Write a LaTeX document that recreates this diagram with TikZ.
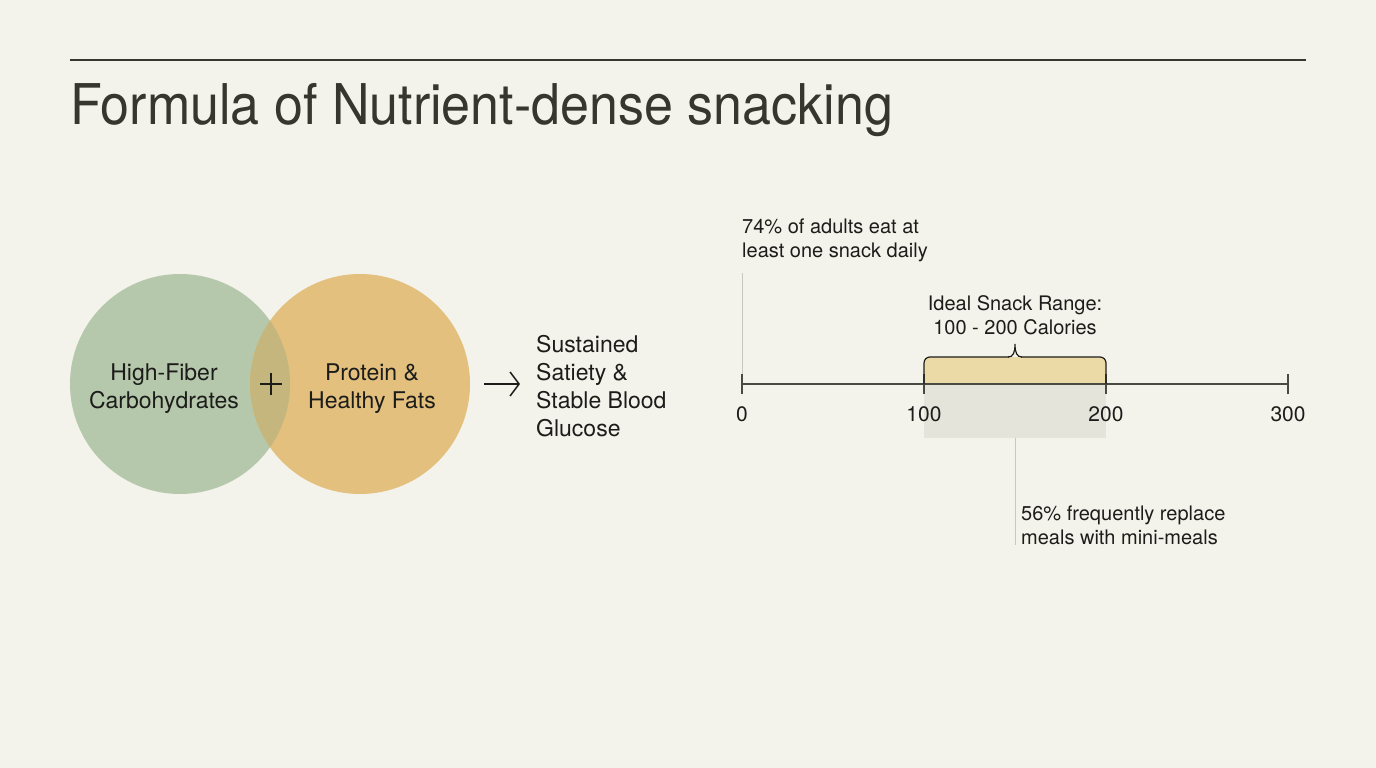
\documentclass[tikz,border=0pt]{standalone}
\usepackage{fontspec}
\setmainfont{TeX Gyre Heros}
\usetikzlibrary{positioning,arrows.meta}
\definecolor{paper}{HTML}{F4F3EB}
\definecolor{ink}{HTML}{1C1C1A}
\definecolor{titleink}{HTML}{36362F}
\definecolor{sage}{HTML}{B5C8AB}
\definecolor{ochre}{HTML}{E3C07E}
\definecolor{olive}{HTML}{C4B67D}
\definecolor{band}{HTML}{ECDAA6}
\definecolor{shade}{HTML}{E5E4DA}
\definecolor{axisgray}{HTML}{4A4A45}
\definecolor{leadgray}{HTML}{C9C8BE}
\tikzset{
    disc/.style={circle, minimum size=220pt, inner sep=0pt},
    body/.style={font=\fontsize{23}{28}\selectfont, text=ink, align=center, inner sep=0pt},
    note/.style={font=\fontsize{20}{23.5}\selectfont, text=ink, inner sep=0pt},
    ticklabel/.style={font=\fontsize{21}{25}\selectfont, text=ink, inner sep=0pt},
    axis/.style={draw=axisgray, line width=1.4pt},
    brace/.style={draw=ink, line width=1.2pt},
    leader/.style={draw=leadgray, line width=1pt},
    plussign/.style={minimum size=22pt, inner sep=0pt,
        path picture={\draw[ink, line width=1.6pt]
            (path picture bounding box.north) -- (path picture bounding box.south)
            (path picture bounding box.west) -- (path picture bounding box.east);}}
}

\begin{document}
\begin{tikzpicture}[x=1pt,y=-1pt]
	\useasboundingbox (0,0) rectangle (1376,768);
	\fill[paper] (0,0) rectangle (1376,768);
	% heading
	\draw[titleink, line width=1.3pt] (70,60) -- (1306,60);
	\node[anchor=base west, inner sep=0pt, text=titleink, font=\fontsize{52}{60}\selectfont] (title) at (70,124) {\scalebox{1}[1.08]{Formula of Nutrient-dense snacking}};
	% venn
	\node[disc, fill=sage] (carbs) at (180,384) {};
	\node[disc, fill=ochre] (fats) at (360,384) {};
	\begin{scope}
		\clip (180,384) circle (110pt);
		\fill[olive] (360,384) circle (110pt);
	\end{scope}
	\node[body] (carbstext) at (164,389) {High-Fiber\\Carbohydrates};
	\node[body] (fatstext) at (372,389) {Protein \&\\Healthy Fats};
	\node[plussign] (plus) at (271,384) {};
	\node[body, align=left, anchor=west] (result) at (536,386) {Sustained\\Satiety \&\\Stable Blood\\Glucose};
	\draw[-{Straight Barb[length=9pt,width=24pt]}, ink, line width=1.5pt, shorten <=14pt, shorten >=16pt] (fats.east) -- (result.west |- fats.east);
	% scale
	\node[fill=shade, minimum width=182pt, minimum height=54pt, inner sep=0pt, anchor=north west] (shadebox) at (924,384) {};
	\fill[band, rounded corners=6pt] (924,384) -- (924,357) -- (1106,357) -- (1106,384);
	\foreach \v/\x in {0/742,100/924,200/1106,300/1288}{
		\coordinate (t\v) at (\x,384);
		\draw[axis] ([yshift=-10pt]t\v) -- ([yshift=10pt]t\v);
		\node[ticklabel] (l\v) at (\x,414) {\v};
	}
	\draw[axis] (t0) -- (t300);
	\draw[brace, rounded corners=6pt] (t100) -- (924,357) -- (1009,357);
	\draw[brace, rounded corners=6pt] (1021,357) -- (1106,357) -- (t200);
	\draw[brace] (1008,357) .. controls (1013,357) and (1015,353) .. (1015,344) .. controls (1015,353) and (1017,357) .. (1022,357);
	\node[note, align=center] (range) at (1015,315) {Ideal Snack Range:\\100 - 200 Calories};
	\node[note, align=left, anchor=north west] (note74) at (742,219) {74\% of adults eat at\\least one snack daily};
	\node[note, align=left, anchor=north west] (note56) at (1021,506) {56\% frequently replace\\meals with mini-meals};
	\draw[leader, shorten <=11pt, shorten >=10pt] (note74.south west) -- (t0);
	\draw[leader] (shadebox.south) -- (shadebox.south |- note56.south);
\end{tikzpicture}
\end{document}
